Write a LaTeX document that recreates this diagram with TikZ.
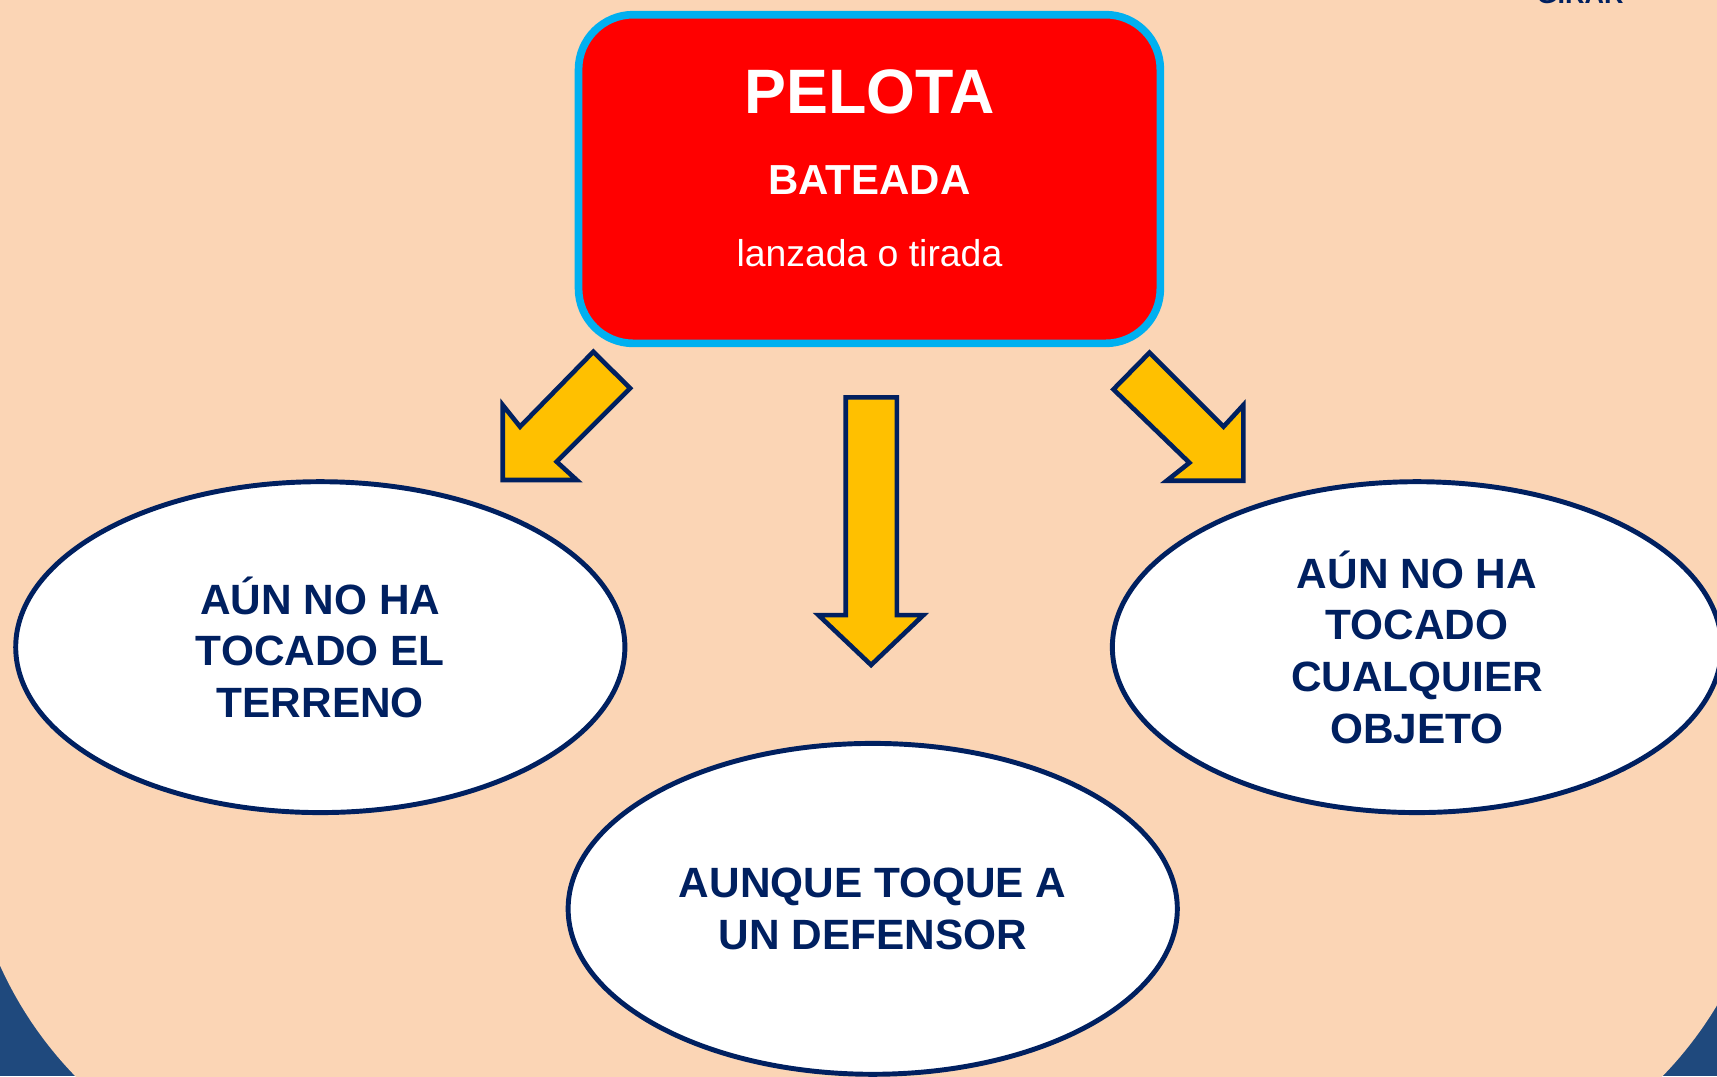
\documentclass[tikz,border=0pt]{standalone}
\usepackage{fontspec}
\setmainfont{Liberation Sans}
\usetikzlibrary{shapes.geometric}

\definecolor{peach}{HTML}{FBD5B5}
\definecolor{slideblue}{HTML}{1F497D}
\definecolor{navy}{HTML}{002060}
\definecolor{boxcyan}{HTML}{00B0F0}
\definecolor{arrowgold}{HTML}{FFC000}

\begin{document}
\begin{tikzpicture}[x=0.01cm,y=-0.01cm,
    caso/.style={ellipse,draw=navy,line width=0.045cm,fill=white,inner sep=0pt,
        minimum width=5.56cm,minimum height=3.02cm,align=center,text=navy,
        font=\fontsize{11}{13.4}\selectfont\bfseries},
    bloque/.style={fill=arrowgold,draw=navy,line width=0.042cm,line join=miter},
    rotulo/.style={anchor=base,text=white}]
    % background
    \useasboundingbox (0,0) rectangle (1568,983);
    \fill[slideblue] (0,0) rectangle (1568,983);
    \fill[peach,rounded corners=3.53cm] (-31,-400) rectangle (1618,1090);
    \node[anchor=base,text=navy,font=\fontsize{7}{8}\selectfont\bfseries] (marca) at (1443,3) {GIRAR};
    % main box
    \node[draw=boxcyan,line width=0.07cm,fill=red,rounded corners=0.5cm,
        minimum width=5.31cm,minimum height=3cm] (pelota) at (794,163.5) {};
    \node[rotulo,font=\fontsize{16.3}{18}\selectfont\bfseries] (titulo) at (794,104) {PELOTA};
    \node[rotulo,font=\fontsize{10.9}{12}\selectfont\bfseries] (bateada) at (794,178) {BATEADA};
    \node[rotulo,font=\fontsize{9.7}{11}\selectfont] (lanzada) at (794,243) {lanzada o tirada};
    % cases
    \node[caso] (terreno) at (292.5,591) {AÚN NO HA\\TOCADO EL\\TERRENO};
    \node[caso] (objeto) at (1294,591) {AÚN NO HA\\TOCADO\\CUALQUIER\\OBJETO};
    \node[caso] (defensor) at (797,830) {AUNQUE TOQUE A\\UN DEFENSOR};
    % arrows
    \draw[bloque] (541.9,321.2) -- (575.4,354.6) -- (508.4,421.7) -- (526.7,438.4)
        -- (459.1,438.4) -- (459.1,369.9) -- (474.9,389.7) -- cycle;
    \draw[bloque] (772.4,362.9) -- (819,362.9) -- (819,561.7) -- (843.3,561.7)
        -- (795.5,607.3) -- (747.4,561.7) -- (772.4,561.7) -- cycle;
    \draw[bloque] (1049.7,322.1) -- (1016.8,355.6) -- (1086.2,422.6) -- (1065.5,439.0)
        -- (1135.5,439.0) -- (1135.5,369.9) -- (1117.3,389.7) -- cycle;
\end{tikzpicture}
\end{document}
